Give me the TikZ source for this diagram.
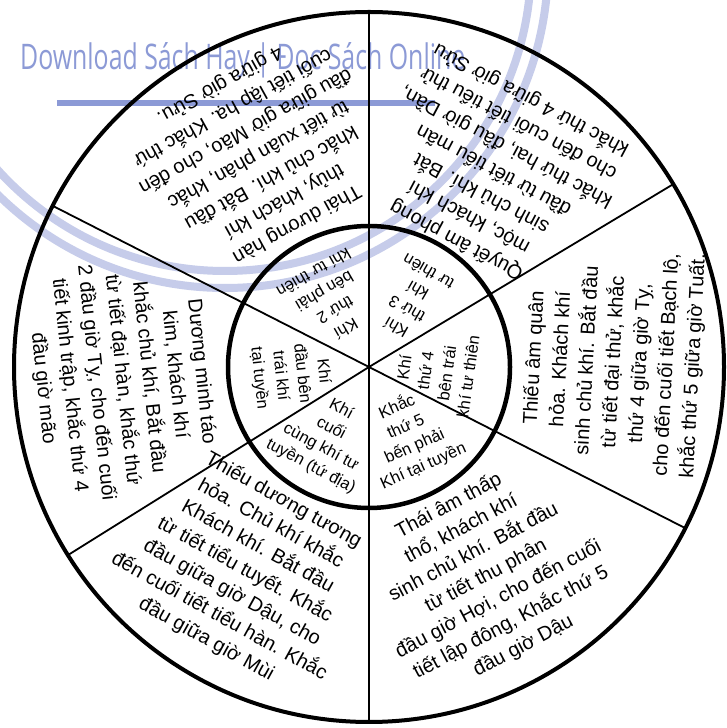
\documentclass[tikz,border=0pt]{standalone}
\usepackage{fontspec}
\setmainfont{Liberation Sans}
\newfontfamily\wmfont{Open Sans}
\definecolor{wmBlue}{HTML}{8C9AD6}
\definecolor{wmArc}{HTML}{C6CCEA}

\begin{document}
\begin{tikzpicture}[x=1pt, y=1pt,
    sectortext/.style={align=center, inner sep=0pt, font=\fontsize{20}{26.5}\selectfont},
    innertext/.style={align=center, inner sep=0pt, font=\fontsize{16.5}{21.5}\selectfont},
    rim/.style={line width=4pt},
    spoke/.style={line width=1.8pt}]
  \useasboundingbox (0,0) rectangle (726,728);
  \fill[white] (0,0) rectangle (726,728);

  % watermark
  \begin{scope}
    \clip (0,0) rectangle (726,728);
    \draw[wmArc, line width=8pt] (225,763) circle (306);
    \draw[wmArc, line width=8pt] (225,763) circle (323);
  \end{scope}
  \draw[wmBlue, line width=6pt] (57,625) -- (435,625);
  \node[anchor=base west, inner sep=0pt, text=wmBlue] (wm) at (20,658)
    {\resizebox{445pt}{27pt}{\wmfont Download Sách Hay | Đọc Sách Online}};

  % wheel
  \coordinate (c) at (369,361);
  \draw[rim] (c) circle (355);
  \draw[rim, line width=4.5pt] (c) circle (141);
  \foreach \ang in {90,31,-27,-90,-148,153}
    \draw[spoke] (c) -- ++(\ang:355);

  % outer ring
  \node[sectortext, rotate=209] (qi2) at (258,574)
    {Thái dương hàn\\thủy, khách khí\\khắc chủ khí. Bắt đầu\\từ tiết xuân phân, khắc\\đầu giữa giờ Mão, cho đến\\cuối tiết lập hạ. Khắc thứ\\4 giữa giờ Sửu.};
  \node[sectortext, rotate=152] (qi3) at (494,558)
    {Quyết âm phong\\mộc, khách khí\\sinh chủ khí. Bắt\\đầu từ tiết tiểu mãn\\khắc thứ hai, đầu giờ Dần,\\cho đến cuối tiết tiểu thử\\khắc thứ 4 giữa giờ Sửu};
  \node[sectortext, rotate=87] (qi4) at (614,366)
    {Thiếu âm quân\\hỏa. Khách khí\\sinh chủ khí. Bắt đầu\\từ tiết đại thử, khắc\\thứ 4 giữa giờ Tỵ,\\cho đến cuối tiết Bạch lộ,\\khắc thứ 5 giữa giờ Tuất.};
  \node[sectortext, rotate=28] (qi5) at (486,152)
    {Thái âm thấp\\thổ, khách khí\\sinh chủ khí. Bắt đầu\\từ tiết thu phân\\đầu giờ Hợi, cho đến cuối\\tiết lập đông, Khắc thứ 5\\đầu giờ Dậu};
  \node[sectortext, rotate=-29] (qi6) at (245,158)
    {Thiếu dương tương\\hỏa. Chủ khí khắc\\Khách khí. Bắt đầu\\từ tiết tiểu tuyết. Khắc\\đầu giữa giờ Dậu, cho\\đến cuối tiết tiểu hàn. Khắc\\đầu giữa giờ Mùi};
  \node[sectortext, rotate=-84] (qi1) at (122,348)
    {Dương minh táo\\kim, khách khí\\khắc chủ khí, Bắt đầu\\từ tiết đại hàn, khắc thứ\\2 đầu giờ Tỵ, cho đến cuối\\tiết kinh trập, khắc thứ 4\\đầu giờ mão};

  % inner circle
  \node[innertext, rotate=210] (in2) at (330,427) {Khí\\thứ 2\\bên phải\\khí tư thiên};
  \node[innertext, rotate=150] (in3) at (412,428) {Khí\\thứ 3\\khí\\tư thiên};
  \node[innertext, rotate=82] (in4) at (436,356) {Khí\\thứ 4\\bên trái\\khí tư thiên};
  \node[innertext, rotate=24] (in5) at (410,292) {Khắc\\thứ 5\\bến phải\\Khí tại tuyền};
  \node[innertext, rotate=-28] (in6) at (326,290) {Khí\\cuối\\cùng khí tư\\tuyền (tứ địa)};
  \node[innertext, rotate=-84] (in1) at (291,353) {Khí\\đầu bên\\trái khí\\tại tuyền};
\end{tikzpicture}
\end{document}
